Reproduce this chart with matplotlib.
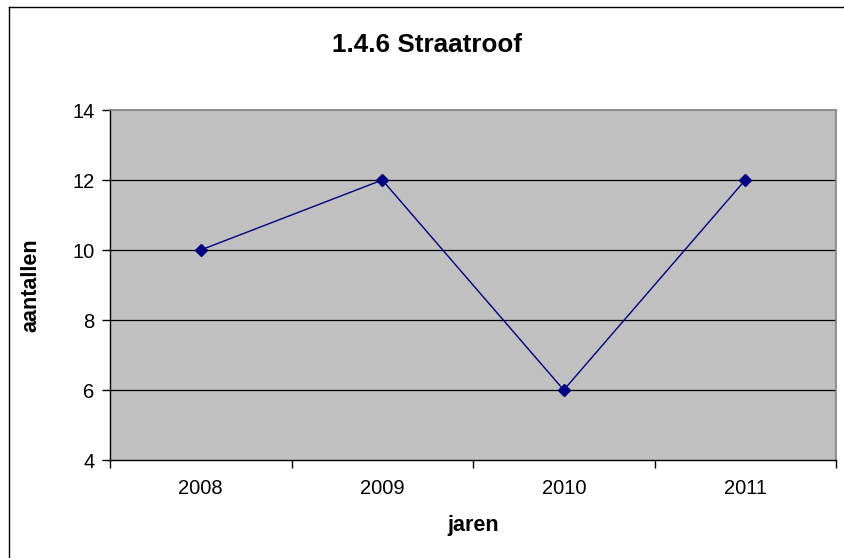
import matplotlib
matplotlib.use("Agg")
import matplotlib.pyplot as plt
from matplotlib.lines import Line2D

years = ["2008", "2009", "2010", "2011"]
values = [10, 12, 6, 12]
yticks = [4, 6, 8, 10, 12, 14]

plt.rcParams['font.family'] = ['Liberation Sans', 'DejaVu Sans']

W, H = 844, 558
fig = plt.figure(figsize=(W / 100, H / 100), dpi=100)

# outer chart frame (left and top edges visible)
fig.add_artist(Line2D([9 / W, 9 / W], [0, 1 - 7 / H], color='black', lw=1.0, transform=fig.transFigure))
fig.add_artist(Line2D([9 / W, 1], [1 - 7 / H, 1 - 7 / H], color='black', lw=1.0, transform=fig.transFigure))

ax = fig.add_axes([110 / W, 1 - 460 / H, (836 - 110) / W, (460 - 110) / H])
ax.set_facecolor('#C0C0C0')

x = list(range(len(years)))
ax.plot(x, values, color='#000080', lw=1.0, marker='D', markersize=6.5,
        markerfacecolor='#000080', markeredgecolor='#000080', zorder=3)

ax.set_xlim(-0.5, len(years) - 0.5)
ax.set_ylim(4, 14)
ax.set_yticks(yticks)
ax.set_yticklabels([str(v) for v in yticks], fontsize=14.5)
ax.set_xticks(x)
ax.set_xticklabels(years, fontsize=14.5)
ax.set_xticks([i - 0.5 for i in range(len(years) + 1)], minor=True)
ax.tick_params(axis='x', which='major', length=0, pad=14)
ax.tick_params(axis='x', which='minor', length=6, width=1, direction='out', color='black')
ax.tick_params(axis='y', length=6, width=1, direction='out', pad=5)

for v in yticks[1:-1]:
    ax.axhline(v, color='black', lw=0.9, zorder=1)

for s in ['left', 'bottom']:
    ax.spines[s].set_color('black')
    ax.spines[s].set_linewidth(1.0)
for s in ['top', 'right']:
    ax.spines[s].set_color('#808080')
    ax.spines[s].set_linewidth(1.2)

ax.set_xlabel('jaren', fontsize=15.5, fontweight='bold', labelpad=12)
ax.set_ylabel('aantallen', fontsize=15.5, fontweight='bold', labelpad=22)
fig.text(427 / W, 1 - 45 / H, '1.4.6 Straatroof', fontsize=18.8, fontweight='bold',
         ha='center', va='center')

fig.savefig('out.png', dpi=100)
